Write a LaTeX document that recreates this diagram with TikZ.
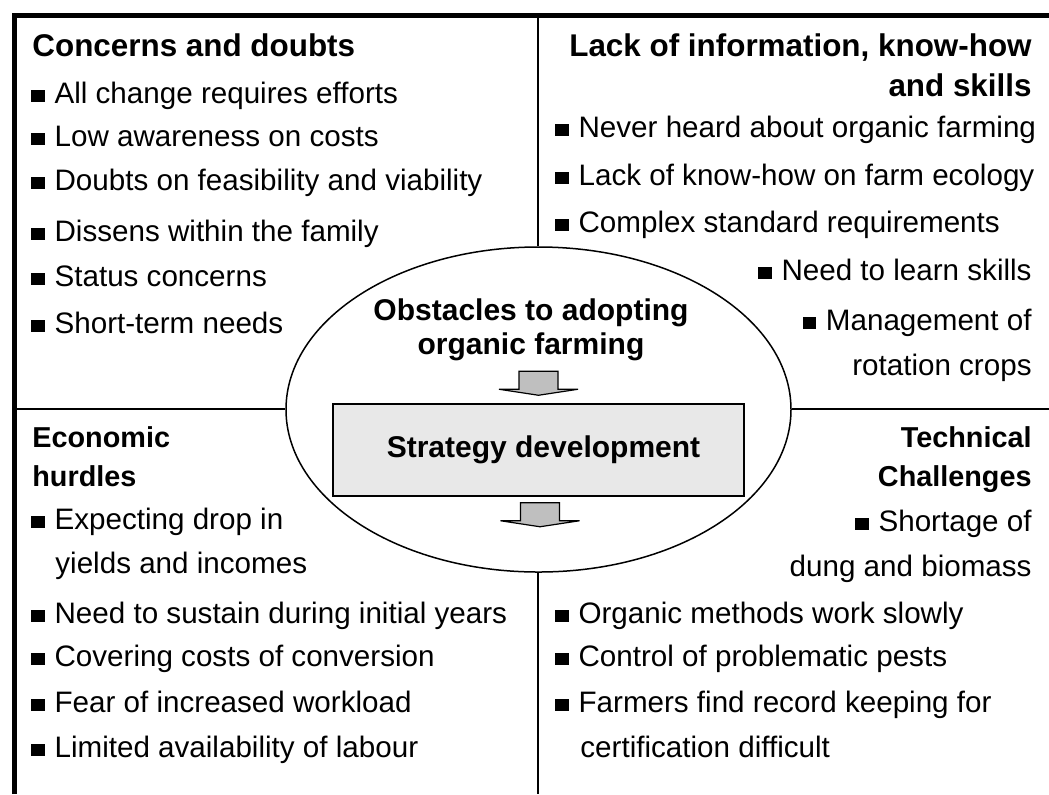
\documentclass[tikz,border=0pt]{standalone}
\usepackage{fontspec}
\setmainfont{Liberation Sans}
\usetikzlibrary{shapes.geometric,positioning,calc}

\newcommand{\sqbul}{\rule[0.3pt]{6.6pt}{6.4pt}\hspace{5pt}}

\begin{document}
\begin{tikzpicture}[
  x=0.5pt, y=-0.5pt,
  txt/.style={inner sep=0pt, font=\fontsize{14.8}{17}\selectfont},
  lft/.style={txt, anchor=base west},
  rgt/.style={txt, anchor=base east},
  head/.style={inner sep=0pt, font=\fontsize{15}{18}\selectfont\bfseries},
  tophead/.style={head, font=\fontsize{15.7}{18}\selectfont\bfseries},
  lowhead/.style={head, font=\fontsize{14.4}{18}\selectfont\bfseries},
  divider/.style={line width=1pt},
  blockarrow/.pic={\filldraw[fill=black!25, line width=0.6pt] (-19.5,0) -- (19.5,0) -- (19.5,18) -- (39.5,18) -- (0,24) -- (-39.5,18) -- (-19.5,18) -- cycle;}
]
\useasboundingbox (0,0) rectangle (1049,794);

% frame and quarters
\coordinate (tl) at (14,15.8);
\coordinate (tr) at (1049,15.8);
\coordinate (bl) at (14,794);
\coordinate (midtop) at (538,15.8);
\coordinate (midbot) at (538,794);
\coordinate (lmid) at (14,409);
\coordinate (rmid) at (1049,409);
\draw[line width=2.5pt] (bl) -- (tl) -- (tr);

\node[draw, ellipse, line width=0.75pt, inner sep=0pt, minimum width=252.5pt, minimum height=162.5pt] (obst) at (538.5,409.5) {};

\draw[divider] (midtop) -- (midtop |- obst.north);
\draw[divider] (midbot |- obst.south) -- (midbot);
\draw[divider] (lmid) -- (lmid -| obst.west);
\draw[divider] (rmid -| obst.east) -- (rmid);

% centre
\node[head, anchor=base] (ob1) at (531,320) {Obstacles to adopting};
\node[head, anchor=base] (ob2) at (531,354) {organic farming};
\node[draw, fill=black!9, line width=0.75pt, head, minimum width=205.5pt, minimum height=46pt] (strat) at (538.5,450) {\hspace{5pt}Strategy development};
\pic at ([yshift=16pt]strat.north) {blockarrow};
\pic at ([yshift=-3pt,xshift=0.75pt]strat.south) {blockarrow};

% concerns and doubts
\node[tophead, anchor=base west] (cd0) at (32,56) {Concerns and doubts};
\node[lft] (cd1) at (31,103) {\sqbul All change requires efforts};
\node[lft] (cd2) at (31,146) {\sqbul Low awareness on costs};
\node[lft] (cd3) at (31,190) {\sqbul Doubts on feasibility and viability};
\node[lft] (cd4) at (31,241) {\sqbul Dissens within the family};
\node[lft] (cd5) at (31,286) {\sqbul Status concerns};
\node[lft] (cd6) at (31,333) {\sqbul Short-term needs};

% lack of information
\node[tophead, anchor=base east] (li0) at (1032,56) {Lack of information, know-how};
\node[tophead, anchor=base east] (li1) at (1032,96) {and skills};
\node[lft] (li2) at (555,137) {\sqbul Never heard about organic farming};
\node[lft] (li3) at (555,185) {\sqbul Lack of know-how on farm ecology};
\node[lft] (li4) at (555,232) {\sqbul Complex standard requirements};
\node[rgt] (li5) at (1032,280) {\sqbul Need to learn skills};
\node[rgt] (li6) at (1032,330) {\sqbul Management of};
\node[rgt] (li7) at (1032,375) {rotation crops};

% economic hurdles
\node[lowhead, anchor=base west] (eh0) at (32,447) {Economic};
\node[lowhead, anchor=base west] (eh1) at (32,486) {hurdles};
\node[lft] (eh2) at (31,529) {\sqbul Expecting drop in};
\node[lft] (eh3) at (55,573) {yields and incomes};
\node[lft] (eh4) at (31,623) {\sqbul Need to sustain during initial years};
\node[lft] (eh5) at (31,666) {\sqbul Covering costs of conversion};
\node[lft] (eh6) at (31,712) {\sqbul Fear of increased workload};
\node[lft] (eh7) at (31,757) {\sqbul Limited availability of labour};

% technical challenges
\node[lowhead, anchor=base east] (tc0) at (1032,447) {Technical};
\node[lowhead, anchor=base east] (tc1) at (1032,486) {Challenges};
\node[rgt] (tc2) at (1032,531) {\sqbul Shortage of};
\node[rgt] (tc3) at (1032,576) {dung and biomass};
\node[lft] (tc4) at (555,623) {\sqbul Organic methods work slowly};
\node[lft] (tc5) at (555,666) {\sqbul Control of problematic pests};
\node[lft] (tc6) at (555,712) {\sqbul Farmers find record keeping for};
\node[lft] (tc7) at (580,757) {certification difficult};

\end{tikzpicture}
\end{document}
